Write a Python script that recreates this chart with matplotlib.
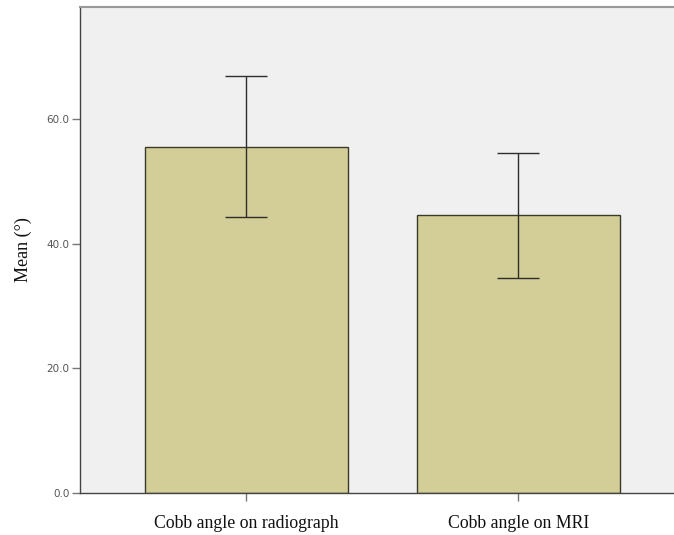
import matplotlib
matplotlib.use("Agg")
import matplotlib.pyplot as plt
import numpy as np

categories = ["Cobb angle on radiograph", "Cobb angle on MRI"]
means = [55.5, 44.6]
ci_low = [44.3, 34.5]
ci_high = [66.9, 54.6]
yticks = [0.0, 20.0, 40.0, 60.0]

W, H = 674, 535
fig = plt.figure(figsize=(W/100, H/100), dpi=100)
ax = fig.add_axes([80/W, (H-493)/H, (674-80)/W, (493-7)/H])
ax.set_facecolor("#F0F0F0")

x = np.arange(len(categories))
err = [np.array(means)-np.array(ci_low), np.array(ci_high)-np.array(means)]
ax.bar(x, means, width=0.746, color="#D3CE97", edgecolor="#3A3A2A", linewidth=1.0, zorder=2)
ax.errorbar(x, means, yerr=err, fmt="none", ecolor="#2E2E2E", elinewidth=1.0,
            capsize=15, capthick=1.0, zorder=3)

ax.set_xlim(-0.612, 1.572)
ax.set_ylim(0, 78)
ax.set_xticks(x)
ax.set_xticklabels(categories, family="Liberation Serif", fontsize=12.8, color="#111111")
ax.set_yticks(yticks)
ax.set_yticklabels([f"{v:.1f}" for v in yticks], fontsize=7.5, color="#555555")
ax.tick_params(axis="both", length=6, color="#777777", width=1)
ax.tick_params(axis="y", pad=1.5)
ax.tick_params(axis="x", pad=10)
ax.set_ylabel("Mean (°)", family="Liberation Serif", fontsize=13, color="#111111")
ax.yaxis.set_label_coords(-0.08, 0.5)

for s in ["left", "bottom"]:
    ax.spines[s].set_color("#444444")
    ax.spines[s].set_linewidth(1.0)
ax.spines["top"].set_color("#999999")
ax.spines["top"].set_linewidth(1.5)
ax.spines["right"].set_visible(False)

fig.savefig("out.png", dpi=100, facecolor="white")
